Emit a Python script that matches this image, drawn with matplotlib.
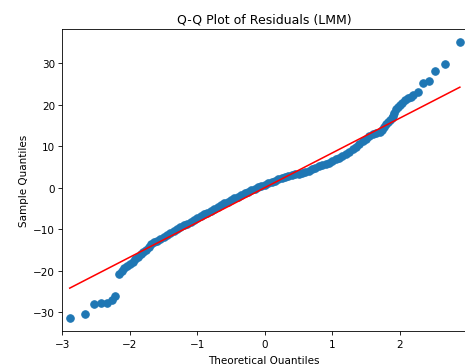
import matplotlib
matplotlib.use("Agg")
import matplotlib.pyplot as plt

# Theoretical quantiles (x) and sample quantiles (y)
theoretical = [
    -2.89, -2.67, -2.53, -2.43, -2.34, -2.27, -2.22,
    -2.16, -2.12, -2.08, -2.04, -2.00, -1.96, -1.92, -1.88, -1.84, -1.80,
    -1.76, -1.72, -1.68, -1.64, -1.60, -1.55, -1.50, -1.45, -1.40, -1.35,
    -1.30, -1.25, -1.20, -1.15, -1.10, -1.05, -1.00, -0.95, -0.90, -0.85,
    -0.80, -0.75, -0.70, -0.65, -0.60, -0.55, -0.50, -0.45, -0.40, -0.35,
    -0.30, -0.25, -0.20, -0.15, -0.10, -0.05, 0.00, 0.05, 0.10, 0.15,
    0.20, 0.25, 0.30, 0.35, 0.40, 0.45, 0.50, 0.55, 0.60, 0.65,
    0.70, 0.75, 0.80, 0.85, 0.90, 0.95, 1.00, 1.05, 1.10, 1.15,
    1.20, 1.25, 1.30, 1.35, 1.40, 1.45, 1.50, 1.55, 1.60, 1.65,
    1.70, 1.74, 1.77, 1.80, 1.83, 1.86, 1.88, 1.90, 1.92, 1.95,
    1.98, 2.01, 2.04, 2.07, 2.12, 2.16, 2.20, 2.27, 2.35, 2.44,
    2.52, 2.67, 2.89,
]
sample = [
    -31.3, -30.4, -28.0, -27.9, -27.8, -27.0, -26.2,
    -20.9, -20.0, -19.4, -18.8, -18.3, -17.8, -17.1, -16.6, -16.1, -15.5,
    -14.9, -14.4, -13.6, -13.2, -12.8, -12.3, -11.8, -11.4, -10.9, -10.5,
    -10.0, -9.5, -9.1, -8.65, -8.2, -7.8, -7.35, -6.9, -6.45, -6.0,
    -5.6, -5.15, -4.7, -4.2, -3.8, -3.4, -3.0, -2.55, -2.15, -1.75,
    -1.4, -1.0, -0.6, -0.25, 0.05, 0.4, 0.75, 1.05, 1.4, 1.7,
    2.0, 2.25, 2.5, 2.8, 3.0, 3.2, 3.4, 3.6, 3.85, 4.1,
    4.4, 4.7, 5.1, 5.4, 5.7, 6.0, 6.4, 6.8, 7.2, 7.7,
    8.2, 8.7, 9.25, 9.9, 10.6, 11.2, 11.8, 12.4, 12.85, 13.2,
    13.5, 14.0, 14.7, 15.3, 15.8, 16.3, 16.8, 17.3, 17.9, 18.9,
    19.4, 20.0, 20.5, 21.0, 21.6, 21.9, 22.3, 23.1, 25.2, 25.6,
    28.0, 29.9, 35.0,
]

# Reference line endpoints
line_x = [-2.89, 2.89]
line_y = [-24.2, 24.2]

fig = plt.figure(figsize=(465 / 75, 365 / 75), dpi=75)
# axes extends slightly past the right edge of the picture, as in the reference
ax = fig.add_axes([0.134, 0.0896, 0.868, 0.828])

ax.plot(theoretical, sample, "o", color="#1f77b4", markersize=7.2)
ax.plot(line_x, line_y, "-", color="red", linewidth=1.5)

ax.set_xlim(-3.0, 2.98)
ax.set_ylim(-34.6, 38.2)
ax.set_title("Q-Q Plot of Residuals (LMM)")
ax.set_xlabel("Theoretical Quantiles", labelpad=6)
ax.set_ylabel("Sample Quantiles")

fig.savefig("out.png", dpi=75)
